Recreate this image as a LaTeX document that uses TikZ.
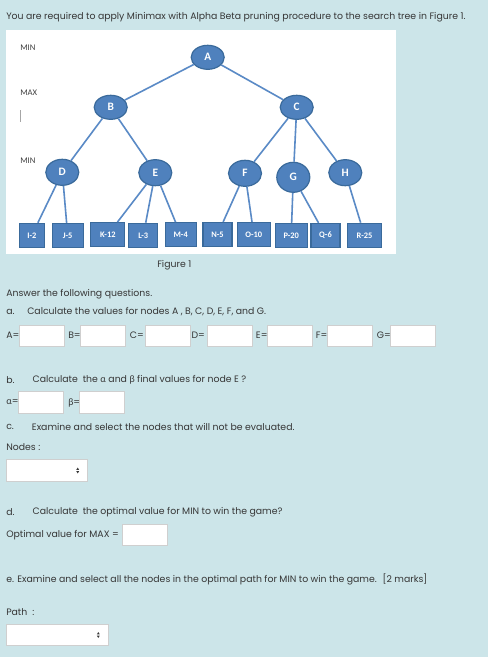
\documentclass[tikz,border=0pt]{standalone}
\usepackage{fontspec}
\setmainfont{Poppins}
\newfontfamily\greekfont{Lato}
\newfontfamily\treefont{Carlito}
\usepackage{xcolor}
\usepackage{tikz}
\usetikzlibrary{shapes.geometric,calc}
\definecolor{pagebg}{HTML}{CCE5E9}
\definecolor{textmain}{HTML}{363636}
\definecolor{nodefill}{HTML}{4F81BD}
\definecolor{nodeline}{HTML}{3A6A9B}
\definecolor{edgeblue}{HTML}{5A8AC6}
\definecolor{boxgray}{HTML}{CFCFCF}
\tikzset{
  every node/.append style={inner sep=0pt,text=textmain},
  qtext/.style={anchor=west,font=\fontsize{7}{8.5}\selectfont},
  treenode/.style={ellipse,draw=nodeline,fill=nodefill,line width=0.9pt,
    minimum width=24.75pt,minimum height=19.5pt,
    text=white,font=\treefont\bfseries\fontsize{8.5}{9}\selectfont},
  leafnode/.style={rectangle,draw=nodeline,fill=nodefill,line width=0.9pt,
    minimum height=18pt,text=white,font=\treefont\bfseries\fontsize{6.3}{7}\selectfont},
  treeedge/.style={edgeblue,line width=1.2pt},
  levellabel/.style={anchor=west,text=black!75,font=\treefont\fontsize{6.5}{7}\selectfont},
  answerbox/.style={draw=boxgray,fill=white,line width=0.6pt},
}

\begin{document}
\begin{tikzpicture}[x=0.75pt,y=-0.75pt]
  % page of 488x657 px, y grows downwards
  \fill[pagebg] (0,0) rectangle (488,657);
  \useasboundingbox (0,0) rectangle (488,657);
  \node[qtext] (title) at (6,17)
    {You are required to apply Minimax with Alpha Beta pruning procedure to the search tree in Figure 1.};
  % figure panel
  \fill[white] (6,30) rectangle (396,254);
  \node[levellabel] (lmin) at (20,48) {MIN};
  \node[levellabel] (lmax) at (20,93) {MAX};
  \node[levellabel] (lmin2) at (20,161) {MIN};
  \draw[black!35,line width=0.7pt] (20,110)--(20,122);
  % tree
  \node[treenode,minimum height=18pt] (A) at (207.7,57.3) {A};
  \node[treenode,minimum height=18pt] (B) at (110.7,107.3) {B};
  \node[treenode,minimum height=18pt] (C) at (296.7,107.3) {C};
  \node[treenode] (D) at (62.3,172.3) {D};
  \node[treenode] (E) at (155.3,172.7) {E};
  \node[treenode] (F) at (245,173.3) {F};
  \node[treenode,minimum height=22.5pt] (G) at (293.3,177.3) {G};
  \node[treenode] (H) at (345.3,172.7) {H};
  \node[leafnode,minimum width=18.75pt] (I) at (31.8,235.3) {I-2};
  \node[leafnode,minimum width=23.25pt] (J) at (67.7,235.5) {J-5};
  \node[leafnode,minimum width=25.5pt] (K) at (107.8,234.7) {K-12};
  \node[leafnode,minimum width=21.75pt] (L) at (143.3,235.3) {L-3};
  \node[leafnode,minimum width=23.25pt] (M) at (180.7,234.7) {M-4};
  \node[leafnode,minimum width=21.75pt] (N) at (217.5,234.5) {N-5};
  \node[leafnode,minimum width=24.75pt] (O) at (253.8,234.5) {O-10};
  \node[leafnode,minimum width=24pt] (P) at (291.2,235.5) {P-20};
  \node[leafnode,minimum width=21.75pt] (Q) at (325.5,235.5) {Q-6};
  \node[leafnode,minimum width=25.5pt] (R) at (364.5,235.3) {R-25};
  \foreach \p/\c in {A/B,A/C,B/D,B/E,C/F,C/G,C/H,D/I,D/J,E/K,E/L,E/M,F/N,F/O,G/P,G/Q,H/R}
    \draw[treeedge] (\p)--(\c);
  \node[qtext] (caption) at (157,265) {Figure 1};
  % questions
  \node[qtext] (intro) at (6,294) {Answer the following questions.};
  \node[qtext] (qa) at (6,312) {a.};
  \node[qtext] (qatext) at (27,312) {Calculate the values for nodes A , B, C, D, E, F, and G.};
  \foreach \lab/\lx/\bx in {A/6/19.3,B/68/80,C/129.7/145.3,D/191.3/207.3,E/255.7/267.3,F/315.7/327.3,G/376.7/390.7}{
    \node[qtext] (lab\lab) at (\lx,335.5) {\lab=};
    \draw[answerbox] (\bx,325) rectangle ++(45,21);
  }
  \node[qtext] (qb) at (6,380) {b.};
  \node[qtext] (qbtext) at (32.3,380) {Calculate \ the {\greekfont α} and {\greekfont β} final values for node E ?};
  \node[qtext] (labalpha) at (6,402.5) {{\greekfont α}=};
  \draw[answerbox] (18.7,391.7) rectangle ++(45,21.6);
  \node[qtext] (labbeta) at (68,402.5) {{\greekfont β}=};
  \draw[answerbox] (79.3,391.7) rectangle ++(45,21.6);
  \node[qtext] (qc) at (6,427.3) {c.};
  \node[qtext] (qctext) at (31.7,427.3) {Examine and select the nodes that will not be evaluated.};
  \node[qtext] (nodeslab) at (6,446.7) {Nodes :};
  \draw[answerbox] (6,459.3) rectangle (87.3,481.7);
  \fill[textmain] (76.3,469.8)--(79.1,469.8)--(77.7,467.6)--cycle
                  (76.3,471.2)--(79.1,471.2)--(77.7,473.4)--cycle;
  \node[qtext] (qd) at (6,511.7) {d.};
  \node[qtext] (qdtext) at (32.3,511.7) {Calculate \ the optimal value for MIN to win the game?};
  \node[qtext] (optlab) at (6,535) {Optimal value for MAX =};
  \draw[answerbox] (122.7,524.3) rectangle (167.3,545.7);
  \node[qtext] (qe) at (6,579)
    {e. Examine and select all the nodes in the optimal path for MIN to win the game. \ [2 marks]};
  \node[qtext] (pathlab) at (6,612.3) {Path \ :};
  \draw[answerbox] (6,624.3) rectangle (108.7,645.7);
  \fill[textmain] (96.9,634.3)--(99.7,634.3)--(98.3,632.1)--cycle
                  (96.9,635.7)--(99.7,635.7)--(98.3,637.9)--cycle;
\end{tikzpicture}
\end{document}
